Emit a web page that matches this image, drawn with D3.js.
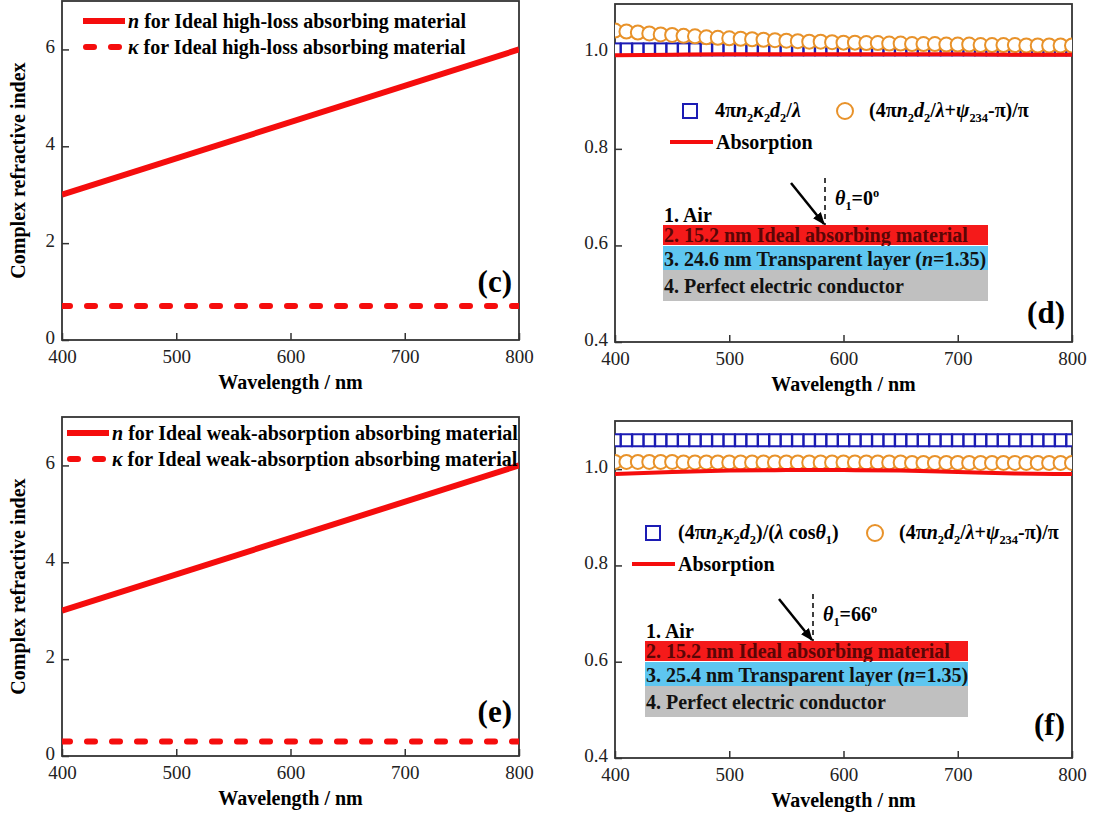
<!DOCTYPE html>
<html>
<head>
<meta charset="utf-8">
<script src="https://cdn.jsdelivr.net/npm/d3@7"></script>
<style>
  body { margin: 0; background: #fff; }
  svg, svg text { font-family: "Liberation Serif", "Times New Roman", Tinos, "Nimbus Roman", "DejaVu Serif", serif; }
</style>
</head>
<body>
<svg width="1094" height="818"></svg>
<script>
// values
var lambdaEnds = [400, 800];
var nIdeal = [3, 6];
var kappaHighLoss = [0.7, 0.7];
var kappaWeak = [0.3, 0.3];

var lambda10 = [400,410,420,430,440,450,460,470,480,490,500,510,520,530,540,550,560,570,580,590,
                600,610,620,630,640,650,660,670,680,690,700,710,720,730,740,750,760,770,780,790,800];
var lambda50 = [400,450,500,550,600,650,700,750,800];

// panel (d), theta = 0
var squaresD = [1.006,1.006,1.006,1.006,1.006,1.006,1.006,1.006,1.006,1.006,1.006,1.006,1.006,1.006,
                1.006,1.006,1.006,1.006,1.006,1.006,1.006,1.006,1.006,1.006,1.006,1.006,1.006,1.006,
                1.006,1.006,1.006,1.006,1.006,1.006,1.006,1.006,1.006,1.006,1.006,1.006,1.006];
var circlesD = [1.045,1.043,1.041,1.039,1.037,1.036,1.034,1.033,1.031,1.030,
                1.029,1.028,1.027,1.026,1.025,1.024,1.023,1.022,1.022,1.021,
                1.020,1.020,1.019,1.019,1.018,1.018,1.017,1.017,1.017,1.016,
                1.016,1.016,1.015,1.015,1.015,1.015,1.014,1.014,1.014,1.014,1.014];
var absorptionD = [0.994,0.995,0.996,0.996,0.996,0.996,0.996,0.995,0.995];

// panel (f), theta = 66
var squaresF = [1.06,1.06,1.06,1.06,1.06,1.06,1.06,1.06,1.06,1.06,1.06,1.06,1.06,1.06,
                1.06,1.06,1.06,1.06,1.06,1.06,1.06,1.06,1.06,1.06,1.06,1.06,1.06,1.06,
                1.06,1.06,1.06,1.06,1.06,1.06,1.06,1.06,1.06,1.06,1.06,1.06,1.06];
var circlesF = [1.015,1.015,1.015,1.015,1.015,1.015,1.014,1.014,1.014,1.014,
                1.014,1.014,1.014,1.014,1.014,1.014,1.014,1.014,1.014,1.014,
                1.014,1.014,1.014,1.014,1.014,1.014,1.013,1.013,1.013,1.013,
                1.013,1.013,1.013,1.013,1.013,1.013,1.013,1.013,1.013,1.013,1.013];
var absorptionF = [0.990,0.994,0.997,0.998,0.998,0.997,0.994,0.991,0.990];

var xTicks = [400, 500, 600, 700, 800];
var yTicksLeft = [0, 2, 4, 6];
var yTicksRight = [0.4, 0.6, 0.8, 1.0];

var RED = "#f50d0d", BLUE = "#1c1cb4", ORANGE = "#e8922a";
var FONT = "'Liberation Serif', 'Times New Roman', Tinos, 'Nimbus Roman', 'DejaVu Serif', serif";

var svg = d3.select("svg").attr("font-family", FONT);
var defs = svg.append("defs");
defs.append("marker")
    .attr("id", "arrow")
    .attr("viewBox", "0 0 10 10")
    .attr("refX", 9).attr("refY", 5)
    .attr("markerWidth", 5).attr("markerHeight", 5)
    .attr("orient", "auto")
  .append("path")
    .attr("d", "M0,1 L10,5 L0,9 z")
    .attr("fill", "#000");

// writes text made of parts: {t, i (italic), sub, sup}
function richText(sel, parts) {
    var shift = 0;
    parts.forEach(function(p) {
        var target = p.sub ? 5 : (p.sup ? -8 : 0);
        var ts = sel.append("tspan").text(p.t).attr("dy", target - shift);
        shift = target;
        if (p.i) ts.attr("font-style", "italic");
        if (p.sub || p.sup) ts.attr("font-size", "0.62em");
    });
    return sel;
}

function panel(cfg) {
    var x = d3.scaleLinear().domain([400, 800]).range([cfg.left, cfg.right]);
    var y = d3.scaleLinear().domain(cfg.yDomain).range([cfg.bottom, cfg.top]);
    var g = svg.append("g");

    var clipId = "clip" + cfg.name;
    defs.append("clipPath").attr("id", clipId)
      .append("rect")
        .attr("x", cfg.left).attr("y", cfg.top)
        .attr("width", cfg.right - cfg.left).attr("height", cfg.bottom - cfg.top);

    var xAxis = g.append("g")
        .attr("transform", "translate(0," + cfg.bottom + ")")
        .call(d3.axisBottom(x).tickValues(xTicks).tickSizeInner(-7).tickSizeOuter(0).tickPadding(10));
    var yAxis = g.append("g")
        .attr("transform", "translate(" + cfg.left + ",0)")
        .call(d3.axisLeft(y).tickValues(cfg.yTicks).tickFormat(cfg.yFormat)
              .tickSizeInner(-7).tickSizeOuter(0).tickPadding(7));
    [xAxis, yAxis].forEach(function(a) {
        a.attr("font-family", FONT);
        a.select(".domain").remove();
        a.selectAll("line").attr("stroke", "#333").attr("stroke-width", 1.5);
        a.selectAll("text")
            .attr("font-size", 19)
            .attr("fill", "#222");
    });
    yAxis.selectAll("text").attr("dy", "0.18em");

    g.append("rect")
        .attr("x", cfg.left).attr("y", cfg.top)
        .attr("width", cfg.right - cfg.left).attr("height", cfg.bottom - cfg.top)
        .attr("fill", "none").attr("stroke", "#333").attr("stroke-width", 1.8);

    g.append("text")
        .attr("x", (cfg.left + cfg.right) / 2)
        .attr("y", cfg.bottom + 49)
        .attr("text-anchor", "middle")
        .attr("font-size", 20).attr("font-weight", "bold")
        .text("Wavelength / nm");

    if (cfg.yTitle) {
        g.append("text")
            .attr("transform", "translate(25," + ((cfg.top + cfg.bottom) / 2) + ") rotate(-90)")
            .attr("text-anchor", "middle")
            .attr("font-size", 20).attr("font-weight", "bold")
            .text(cfg.yTitle);
    }

    g.append("text")
        .attr("x", cfg.right - 7).attr("y", cfg.bottom - cfg.tagUp)
        .attr("text-anchor", "end")
        .attr("font-size", 31).attr("font-weight", "bold")
        .text(cfg.tag);

    var plot = g.append("g").attr("clip-path", "url(#" + clipId + ")");
    return {x: x, y: y, g: g, plot: plot};
}

function indexPanel(cfg, kappa, nLabel, kLabel) {
    var p = panel(cfg);
    var line = d3.line()
        .x(function(d, i) { return p.x(lambdaEnds[i]); })
        .y(function(d) { return p.y(d); });
    p.plot.append("path").datum(nIdeal)
        .attr("d", line).attr("fill", "none")
        .attr("stroke", RED).attr("stroke-width", 6);
    p.plot.append("path").datum(kappa)
        .attr("d", line).attr("fill", "none")
        .attr("stroke", RED).attr("stroke-width", 6)
        .attr("stroke-linecap", "round").attr("stroke-dasharray", "8,17");

    var lx = cfg.legendX, ly = cfg.top + cfg.legendY;
    p.g.append("line").attr("x1", lx).attr("x2", lx + 42).attr("y1", ly).attr("y2", ly)
        .attr("stroke", RED).attr("stroke-width", 6);
    p.g.append("line").attr("x1", lx + 3).attr("x2", lx + 42).attr("y1", ly + 26).attr("y2", ly + 26)
        .attr("stroke", RED).attr("stroke-width", 6)
        .attr("stroke-linecap", "round").attr("stroke-dasharray", "8,17");
    richText(p.g.append("text").attr("x", lx + 45).attr("y", ly + 7)
        .attr("font-size", 20).attr("font-weight", "bold"),
        [{t: "n", i: true}, {t: " for " + nLabel}]);
    richText(p.g.append("text").attr("x", lx + 45).attr("y", ly + 33)
        .attr("font-size", 20).attr("font-weight", "bold"),
        [{t: "\u03ba", i: true}, {t: " for " + kLabel}]);
}

function absorptionPanel(cfg, squares, circles, absorption, sqLabel, layer3, angle) {
    var p = panel(cfg);
    p.plot.selectAll("rect.sq").data(squares).enter().append("rect")
        .attr("class", "sq")
        .attr("x", function(d, i) { return p.x(lambda10[i]) - 5.5; })
        .attr("y", function(d) { return p.y(d) - 6; })
        .attr("width", 11).attr("height", 12)
        .attr("fill", "#fff").attr("stroke", BLUE).attr("stroke-width", 2);
    p.plot.selectAll("circle").data(circles).enter().append("circle")
        .attr("cx", function(d, i) { return p.x(lambda10[i]); })
        .attr("cy", function(d) { return p.y(d); })
        .attr("r", 7)
        .attr("fill", "#fff").attr("stroke", ORANGE).attr("stroke-width", 2);
    p.plot.append("path").datum(absorption)
        .attr("d", d3.line()
            .x(function(d, i) { return p.x(lambda50[i]); })
            .y(function(d) { return p.y(d); })
            .curve(d3.curveMonotoneX))
        .attr("fill", "none").attr("stroke", RED).attr("stroke-width", 4);

    // legend
    var L = cfg.legend;
    p.g.append("rect").attr("x", L.sqX - 7).attr("y", L.y - 7).attr("width", 14).attr("height", 14)
        .attr("fill", "#fff").attr("stroke", BLUE).attr("stroke-width", 2);
    richText(p.g.append("text").attr("x", L.sqX + 25).attr("y", L.y + 6)
        .attr("font-size", 20).attr("font-weight", "bold"), sqLabel);
    p.g.append("circle").attr("cx", L.ciX).attr("cy", L.y).attr("r", 8)
        .attr("fill", "#fff").attr("stroke", ORANGE).attr("stroke-width", 2);
    richText(p.g.append("text").attr("x", L.ciX + 24).attr("y", L.y + 6)
        .attr("font-size", 20).attr("font-weight", "bold"),
        [{t: "(4\u03c0"}, {t: "n", i: true}, {t: "2", sub: true}, {t: "d", i: true}, {t: "2", sub: true},
         {t: "/"}, {t: "\u03bb", i: true}, {t: "+"}, {t: "\u03c8", i: true}, {t: "234", sub: true},
         {t: "-\u03c0)/\u03c0"}]);
    p.g.append("line").attr("x1", L.lineX).attr("x2", L.lineX + 43)
        .attr("y1", L.y + 31).attr("y2", L.y + 31)
        .attr("stroke", RED).attr("stroke-width", 4);
    p.g.append("text").attr("x", L.lineX + 46).attr("y", L.y + 38)
        .attr("font-size", 20).attr("font-weight", "bold").text("Absorption");

    // layer sketch
    var S = cfg.stack;
    var layers = [
        {top: S.y, h: 20, base: 17, fill: "#f51a1a", color: "#5a0606", text: [{t: "2. 15.2 nm Ideal absorbing material"}]},
        {top: S.y + 21, h: 24, base: 20, fill: "#5ec6f0", color: "#111", text: layer3},
        {top: S.y + 45, h: 31, base: 23, fill: "#c0c0c0", color: "#111", text: [{t: "4. Perfect electric conductor"}]}
    ];
    layers.forEach(function(l) {
        p.g.append("rect").attr("x", S.x).attr("y", l.top)
            .attr("width", S.w).attr("height", l.h).attr("fill", l.fill);
        richText(p.g.append("text").attr("x", S.x + 1).attr("y", l.top + l.base)
            .attr("font-size", 20).attr("font-weight", "bold").attr("fill", l.color), l.text);
    });
    p.g.append("text").attr("x", S.x + 1).attr("y", S.y - 3)
        .attr("font-size", 20).attr("font-weight", "bold").text("1. Air");
    p.g.append("line").attr("x1", S.nx).attr("x2", S.nx).attr("y1", S.y - 47).attr("y2", S.y)
        .attr("stroke", "#000").attr("stroke-width", 1.5).attr("stroke-dasharray", "5,4");
    p.g.append("line").attr("x1", S.nx - 34).attr("y1", S.y - 42).attr("x2", S.nx - 1).attr("y2", S.y - 1)
        .attr("stroke", "#000").attr("stroke-width", 2.5).attr("marker-end", "url(#arrow)");
    richText(p.g.append("text").attr("x", S.nx + 10).attr("y", S.y - 20)
        .attr("font-size", 20).attr("font-weight", "bold"),
        [{t: "\u03b8", i: true}, {t: "1", sub: true}, {t: "=" + angle}, {t: "o", sup: true}]);
}

var fmt1 = d3.format(".1f");

indexPanel({name: "c", left: 62, right: 519, top: 1, bottom: 340, yDomain: [0, 7],
            yTicks: yTicksLeft, yFormat: d3.format("d"), yTitle: "Complex refractive index",
            tag: "(c)", tagUp: 48, legendX: 83, legendY: 20},
           kappaHighLoss, "Ideal high-loss absorbing material", "Ideal high-loss absorbing material");

indexPanel({name: "e", left: 62, right: 519, top: 417, bottom: 756, yDomain: [0, 7],
            yTicks: yTicksLeft, yFormat: d3.format("d"), yTitle: "Complex refractive index",
            tag: "(e)", tagUp: 34, legendX: 67, legendY: 16},
           kappaWeak, "Ideal weak-absorption absorbing material", "Ideal weak-absorption absorbing material");

absorptionPanel({name: "d", left: 615, right: 1072, top: 4, bottom: 342, yDomain: [0.4, 1.1],
                 yTicks: yTicksRight, yFormat: fmt1, tag: "(d)", tagUp: 19,
                 legend: {y: 111, sqX: 690, ciX: 845, lineX: 670},
                 stack: {x: 663, y: 225, w: 325, nx: 825}},
                squaresD, circlesD, absorptionD,
                [{t: "4\u03c0"}, {t: "n", i: true}, {t: "2", sub: true}, {t: "\u03ba", i: true}, {t: "2", sub: true},
                 {t: "d", i: true}, {t: "2", sub: true}, {t: "/"}, {t: "\u03bb", i: true}],
                [{t: "3. 24.6 nm Transparent layer ("}, {t: "n", i: true}, {t: "=1.35)"}], "0");

absorptionPanel({name: "f", left: 615, right: 1072, top: 421, bottom: 758, yDomain: [0.4, 1.1],
                 yTicks: yTicksRight, yFormat: fmt1, tag: "(f)", tagUp: 23,
                 legend: {y: 533, sqX: 653, ciX: 875, lineX: 632},
                 stack: {x: 645, y: 641, w: 323, nx: 813}},
                squaresF, circlesF, absorptionF,
                [{t: "(4\u03c0"}, {t: "n", i: true}, {t: "2", sub: true}, {t: "\u03ba", i: true}, {t: "2", sub: true},
                 {t: "d", i: true}, {t: "2", sub: true}, {t: ")/("}, {t: "\u03bb", i: true}, {t: " cos"},
                 {t: "\u03b8", i: true}, {t: "1", sub: true}, {t: ")"}],
                [{t: "3. 25.4 nm Transparent layer ("}, {t: "n", i: true}, {t: "=1.35)"}], "66");
</script>
</body>
</html>
